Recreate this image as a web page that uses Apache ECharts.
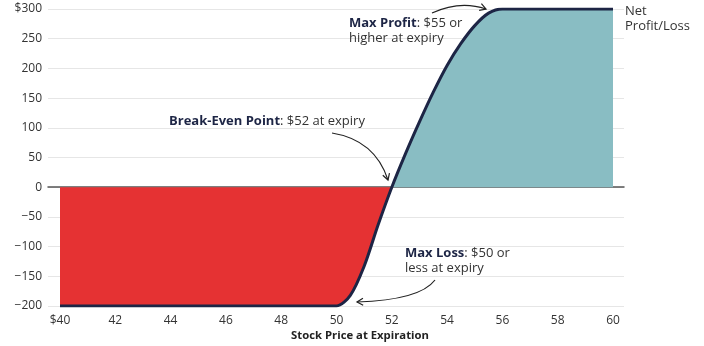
<!DOCTYPE html>
<html>
<head>
<meta charset="utf-8">
<script src="https://cdn.jsdelivr.net/npm/echarts@6/dist/echarts.min.js"></script>
<style>html,body{margin:0;padding:0;background:#fff}#c{width:704px;height:346px}</style>
</head>
<body>
<div id="c"></div>
<script>
// Data
var stockPrices = [40, 49.5, 50, 50.5, 51, 51.5, 52, 52.5, 53, 53.5, 54, 54.5, 55, 55.5, 56, 56.5, 60];
var netProfit   = [-200, -200, -200, -182, -133, -64, 0, 57, 110, 160, 205, 242, 272, 293, 300, 300, 300];
var xTicks = [40, 42, 44, 46, 48, 50, 52, 54, 56, 58, 60];
var yTicks = [-200, -150, -100, -50, 0, 50, 100, 150, 200, 250, 300];
var breakEven = 52;

var all = stockPrices.map(function (x, i) { return [x, netProfit[i]]; });
var lossPart = all.filter(function (p) { return p[0] <= breakEven; });
var profitPart = all.filter(function (p) { return p[0] >= breakEven; });

var NAVY = '#1d2545';
var TXT = '#333333';
var FONT = 'Open Sans';
var SMOOTH = 0.3;

function arrow(x1, y1, cx, cy, x2, y2) {
  var dx = x2 - cx, dy = y2 - cy, L = Math.sqrt(dx * dx + dy * dy);
  dx /= L; dy /= L;
  var len = 7, a = Math.PI / 6;
  function rot(ang) {
    var c = Math.cos(ang), s = Math.sin(ang);
    return [x2 - len * (dx * c - dy * s), y2 - len * (dx * s + dy * c)];
  }
  var p1 = rot(a), p2 = rot(-a);
  return [
    { type: 'bezierCurve', shape: { x1: x1, y1: y1, cpx1: cx, cpy1: cy, x2: x2, y2: y2 },
      style: { stroke: '#222', lineWidth: 1.2, fill: null }, z: 100 },
    { type: 'polyline', shape: { points: [p1, [x2, y2], p2] },
      style: { stroke: '#222', lineWidth: 1.2, fill: null }, z: 100 }
  ];
}

var rich = {
  b: { fontFamily: FONT, fontWeight: 'bold', fontSize: 13, fill: NAVY, lineHeight: 15 },
  n: { fontFamily: FONT, fontSize: 13, fill: TXT, lineHeight: 15 }
};

var graphics = []
  .concat(arrow(432, 13, 460, 0, 486, 9))
  .concat(arrow(332, 133, 375, 140, 388, 180))
  .concat(arrow(435, 280, 420, 300, 357, 302))
  .concat([
    { type: 'text', left: 349, top: 17, z: 100,
      style: { text: '{b|Max Profit}{n|: $55 or}\n{n|higher at expiry}', rich: rich } },
    { type: 'text', left: 169, top: 115, z: 100,
      style: { text: '{b|Break-Even Point}{n|: $52 at expiry}', rich: rich } },
    { type: 'text', left: 405, top: 247, z: 100,
      style: { text: '{b|Max Loss}{n|: $50 or}\n{n|less at expiry}', rich: rich } },
    { type: 'text', left: 625, top: 4, z: 100,
      style: { text: 'Net\nProfit/Loss', fontFamily: FONT, fontSize: 13, fill: TXT, lineHeight: 15 } },
    { type: 'text', x: 360, y: 336, z: 100,
      style: { text: 'Stock Price at Expiration', fontFamily: FONT, fontWeight: 'bold', fontSize: 11.3,
               fill: '#222', align: 'center', verticalAlign: 'middle' } }
  ]);

var chart = echarts.init(document.getElementById('c'));
chart.setOption({
  animation: false,
  grid: { left: 48, right: 80, top: 9, bottom: 40, containLabel: false },
  xAxis: {
    type: 'value', min: 39.566, max: 60.398,
    axisLine: { show: true, onZero: true, lineStyle: { color: '#555', width: 1.5 } },
    axisTick: { show: false },
    splitLine: { show: false },
    axisLabel: {
      customValues: xTicks, margin: 9, color: TXT, fontFamily: FONT, fontSize: 12,
      formatter: function (v) { return v === 40 ? '$' + v : String(v); }
    }
  },
  yAxis: {
    type: 'value', min: -200, max: 300, interval: 50,
    axisLine: { show: false }, axisTick: { show: false },
    splitLine: { show: true, lineStyle: { color: '#e6e6e6', width: 1 } },
    axisLabel: {
      margin: 6, color: TXT, fontFamily: FONT, fontSize: 12,
      formatter: function (v) {
        if (v === 300) return '$300';
        return v < 0 ? '\u2212' + Math.abs(v) : String(v);
      }
    }
  },
  series: [
    { type: 'line', data: lossPart, smooth: SMOOTH, symbol: 'none',
      lineStyle: { width: 0 }, areaStyle: { color: '#e53233', opacity: 1, origin: 0 }, z: 2 },
    { type: 'line', data: profitPart, smooth: SMOOTH, symbol: 'none',
      lineStyle: { width: 0 }, areaStyle: { color: '#89bdc3', opacity: 1, origin: 0 }, z: 2 },
    { type: 'line', data: all, smooth: SMOOTH, symbol: 'none',
      lineStyle: { width: 3, color: NAVY }, z: 5 }
  ],
  graphic: graphics
});
</script>
</body>
</html>
